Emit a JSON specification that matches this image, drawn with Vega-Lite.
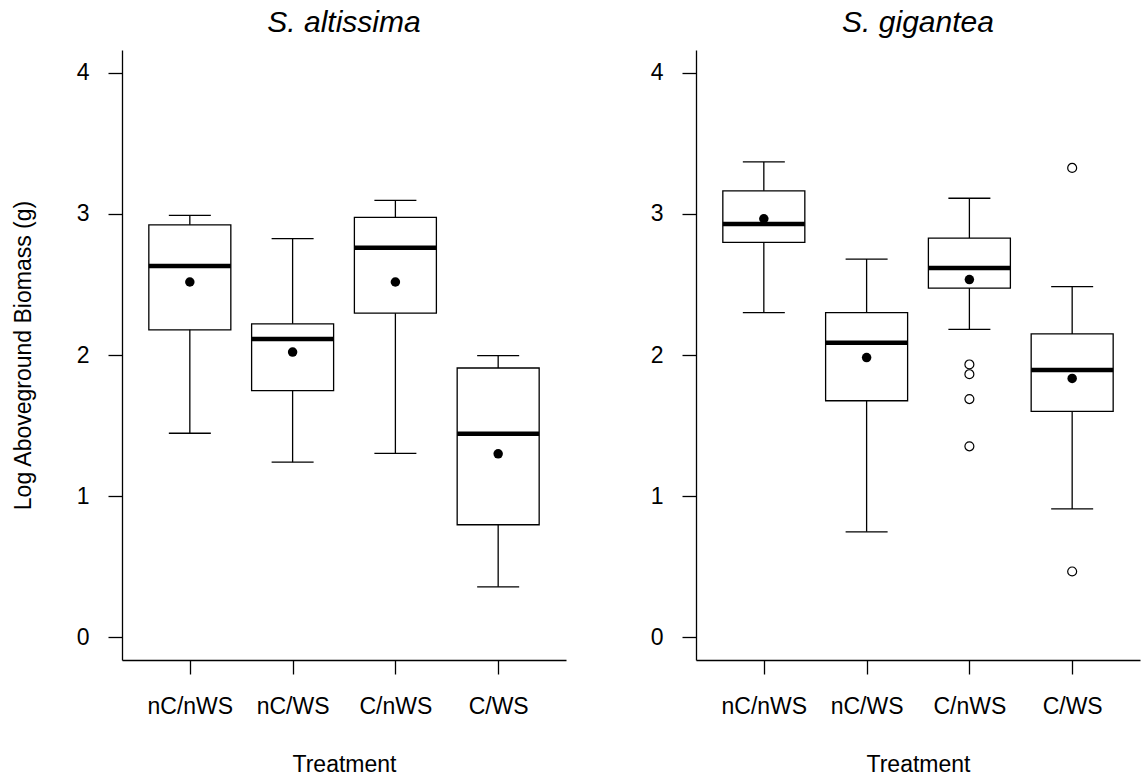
{
  "$schema": "https://vega.github.io/schema/vega-lite/v6.json",
  "background": "white",
  "padding": {"left": 12, "top": 8, "right": 3, "bottom": 5},
  "datasets": {
    "boxes": [
      {"species": "S. altissima", "treatment": "nC/nWS", "lower": 1.446, "q1": 2.178, "median": 2.63, "q3": 2.922, "upper": 2.989, "mean": 2.517},
      {"species": "S. altissima", "treatment": "nC/WS", "lower": 1.241, "q1": 1.747, "median": 2.113, "q3": 2.221, "upper": 2.824, "mean": 2.021},
      {"species": "S. altissima", "treatment": "C/nWS", "lower": 1.304, "q1": 2.296, "median": 2.76, "q3": 2.975, "upper": 3.095, "mean": 2.517},
      {"species": "S. altissima", "treatment": "C/WS", "lower": 0.358, "q1": 0.798, "median": 1.443, "q3": 1.908, "upper": 1.995, "mean": 1.3},
      {"species": "S. gigantea", "treatment": "nC/nWS", "lower": 2.3, "q1": 2.797, "median": 2.927, "q3": 3.163, "upper": 3.367, "mean": 2.965},
      {"species": "S. gigantea", "treatment": "nC/WS", "lower": 0.748, "q1": 1.676, "median": 2.086, "q3": 2.3, "upper": 2.679, "mean": 1.982},
      {"species": "S. gigantea", "treatment": "C/nWS", "lower": 2.182, "q1": 2.474, "median": 2.616, "q3": 2.828, "upper": 3.11, "mean": 2.534},
      {"species": "S. gigantea", "treatment": "C/WS", "lower": 0.91, "q1": 1.601, "median": 1.893, "q3": 2.149, "upper": 2.484, "mean": 1.834}
    ],
    "outliers": [
      {"species": "S. gigantea", "treatment": "C/nWS", "value": 1.933},
      {"species": "S. gigantea", "treatment": "C/nWS", "value": 1.864},
      {"species": "S. gigantea", "treatment": "C/nWS", "value": 1.688},
      {"species": "S. gigantea", "treatment": "C/nWS", "value": 1.353},
      {"species": "S. gigantea", "treatment": "C/WS", "value": 3.325},
      {"species": "S. gigantea", "treatment": "C/WS", "value": 0.467}
    ]
  },
  "spacing": 130,
  "bounds": "flush",
  "hconcat": [
    {
      "width": 444,
      "height": 610,
      "title": {"text": "S. altissima"},
      "data": {"name": "boxes"},
      "transform": [{"filter": "datum.species === 'S. altissima'"}],
      "encoding": {
        "x": {"field": "treatment", "type": "nominal", "scale": {"type": "point", "padding": 0.66, "domain": ["nC/nWS", "nC/WS", "C/nWS", "C/WS"]}, "axis": {"title": "Treatment"}}
      },
      "layer": [
        {"mark": {"type": "rule", "color": "black", "strokeWidth": 1.3},
         "encoding": {"y": {"field": "lower", "type": "quantitative", "scale": {"domain": [-0.16, 4.16], "nice": false, "zero": false}, "axis": {"title": "Log Aboveground Biomass (g)", "values": [0, 1, 2, 3, 4]}}, "y2": {"field": "upper"}}},
        {"mark": {"type": "tick", "color": "black", "size": 42, "thickness": 1.3, "opacity": 1},
         "encoding": {"y": {"field": "lower", "type": "quantitative", "axis": {"title": "Log Aboveground Biomass (g)", "values": [0, 1, 2, 3, 4]}}}},
        {"mark": {"type": "tick", "color": "black", "size": 42, "thickness": 1.3, "opacity": 1},
         "encoding": {"y": {"field": "upper", "type": "quantitative", "axis": {"title": "Log Aboveground Biomass (g)", "values": [0, 1, 2, 3, 4]}}}},
        {"mark": {"type": "bar", "fill": "white", "stroke": "black", "strokeWidth": 1.3, "size": 82, "opacity": 1},
         "encoding": {"y": {"field": "q1", "type": "quantitative", "axis": {"title": "Log Aboveground Biomass (g)", "values": [0, 1, 2, 3, 4]}}, "y2": {"field": "q3"}}},
        {"mark": {"type": "tick", "color": "black", "size": 82, "thickness": 4.5, "opacity": 1},
         "encoding": {"y": {"field": "median", "type": "quantitative", "axis": {"title": "Log Aboveground Biomass (g)", "values": [0, 1, 2, 3, 4]}}}},
        {"mark": {"type": "point", "filled": true, "color": "black", "size": 90, "opacity": 1},
         "encoding": {"y": {"field": "mean", "type": "quantitative", "axis": {"title": "Log Aboveground Biomass (g)", "values": [0, 1, 2, 3, 4]}}}}
      ]
    },
    {
      "width": 444,
      "height": 610,
      "title": {"text": "S. gigantea"},
      "encoding": {
        "x": {"field": "treatment", "type": "nominal", "scale": {"type": "point", "padding": 0.66, "domain": ["nC/nWS", "nC/WS", "C/nWS", "C/WS"]}, "axis": {"title": "Treatment"}}
      },
      "layer": [
        {"data": {"name": "boxes"},
         "transform": [{"filter": "datum.species === 'S. gigantea'"}],
         "layer": [
          {"mark": {"type": "rule", "color": "black", "strokeWidth": 1.3},
           "encoding": {"y": {"field": "lower", "type": "quantitative", "scale": {"domain": [-0.16, 4.16], "nice": false, "zero": false}, "axis": {"title": null, "values": [0, 1, 2, 3, 4]}}, "y2": {"field": "upper"}}},
          {"mark": {"type": "tick", "color": "black", "size": 42, "thickness": 1.3, "opacity": 1},
           "encoding": {"y": {"field": "lower", "type": "quantitative", "axis": {"title": null, "values": [0, 1, 2, 3, 4]}}}},
          {"mark": {"type": "tick", "color": "black", "size": 42, "thickness": 1.3, "opacity": 1},
           "encoding": {"y": {"field": "upper", "type": "quantitative", "axis": {"title": null, "values": [0, 1, 2, 3, 4]}}}},
          {"mark": {"type": "bar", "fill": "white", "stroke": "black", "strokeWidth": 1.3, "size": 82, "opacity": 1},
           "encoding": {"y": {"field": "q1", "type": "quantitative", "axis": {"title": null, "values": [0, 1, 2, 3, 4]}}, "y2": {"field": "q3"}}},
          {"mark": {"type": "tick", "color": "black", "size": 82, "thickness": 4.5, "opacity": 1},
           "encoding": {"y": {"field": "median", "type": "quantitative", "axis": {"title": null, "values": [0, 1, 2, 3, 4]}}}},
          {"mark": {"type": "point", "filled": true, "color": "black", "size": 90, "opacity": 1},
           "encoding": {"y": {"field": "mean", "type": "quantitative", "axis": {"title": null, "values": [0, 1, 2, 3, 4]}}}}
         ]},
        {"data": {"name": "outliers"},
         "mark": {"type": "point", "filled": false, "color": "black", "strokeWidth": 1.2, "size": 80, "opacity": 1},
         "encoding": {"y": {"field": "value", "type": "quantitative", "axis": {"title": null, "values": [0, 1, 2, 3, 4]}}}}
      ]
    }
  ],
  "config": {
    "font": "Liberation Sans",
    "view": {"stroke": null},
    "title": {"fontSize": 30, "fontStyle": "italic", "fontWeight": "normal", "color": "black", "anchor": "middle", "frame": "group", "baseline": "alphabetic", "offset": 12},
    "axis": {
      "domainColor": "black", "domainWidth": 1.3, "tickColor": "black", "tickWidth": 1.3, "tickSize": 14,
      "labelColor": "black", "labelFontSize": 23, "titleColor": "black", "titleFontSize": 23, "titleFontWeight": "normal", "grid": false
    },
    "axisX": {"labelPadding": 21, "titlePadding": 35, "labelAngle": 0},
    "axisY": {"labelPadding": 19, "titlePadding": 41, "labelAngle": 0}
  }
}
